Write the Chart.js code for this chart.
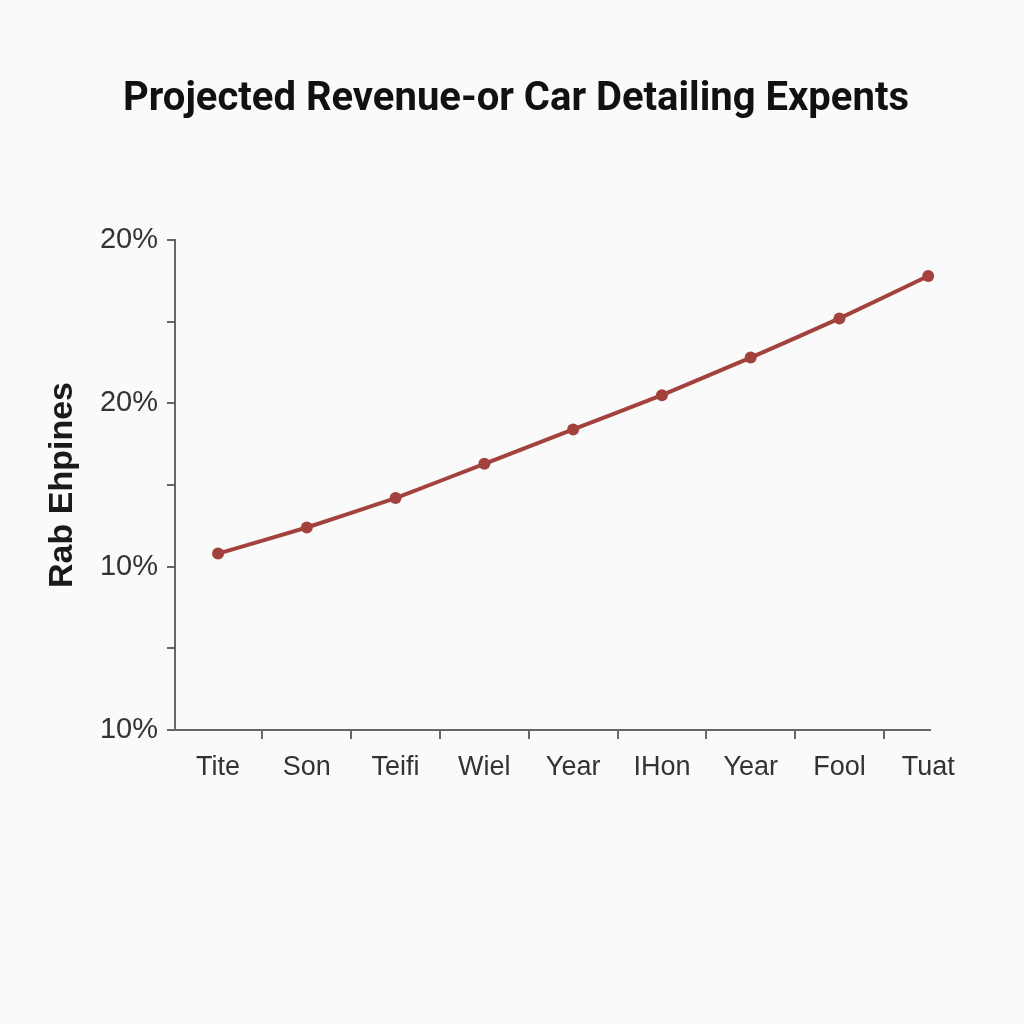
<!DOCTYPE html>
<html>
<head>
<meta charset="utf-8">
<script src="https://cdn.jsdelivr.net/npm/chart.js@4.4.1/dist/chart.umd.min.js"></script>
<style>
  html, body { margin: 0; padding: 0; background: #fafafa; }
  #wrap { width: 1024px; height: 1024px; }
</style>
</head>
<body>
<div id="wrap"><canvas id="c" width="1024" height="1024"></canvas></div>
<script>
const chartTitle = 'Projected Revenue-or Car Detailing Expents';
const yAxisTitle = 'Rab Ehpines';
const categories = ['Tite', 'Son', 'Teifi', 'Wiel', 'Year', 'IHon', 'Year', 'Fool', 'Tuat'];
const seriesValues = [1.08, 1.24, 1.42, 1.63, 1.84, 2.05, 2.28, 2.52, 2.78];
const yTickValues = [0, 1, 2, 3];
const yTickLabels = ['10%', '10%', '20%', '20%'];

const lineColor = '#a3423d';

const points = seriesValues.map((v, i) => ({ x: i, y: v }));

new Chart(document.getElementById('c'), {
  type: 'line',
  data: {
    datasets: [{
      data: points,
      borderColor: lineColor,
      backgroundColor: lineColor,
      borderWidth: 4,
      pointRadius: 6,
      pointBorderWidth: 0,
      pointBackgroundColor: lineColor,
      tension: 0.1,
      fill: false,
      clip: false
    }]
  },
  options: {
    responsive: false,
    animation: false,
    layout: { padding: { left: 10, right: 2, top: 0, bottom: 214 } },
    plugins: {
      legend: { display: false },
      tooltip: { enabled: false },
      title: {
        display: true,
        text: chartTitle,
        color: '#111111',
        font: { family: 'Roboto, "Liberation Sans", Arial, sans-serif', size: 40, weight: 'bold' },
        padding: { top: 76, bottom: 116 }
      }
    },
    scales: {
      x: {
        type: 'linear',
        min: -0.485,
        max: 8.02,
        afterFit: (s) => { s.height = 80; },
        ticks: {
          stepSize: 1,
          includeBounds: false,
          autoSkip: false,
          maxRotation: 0,
          padding: 12,
          color: '#333333',
          font: { family: '"Liberation Sans", Arial, sans-serif', size: 27 },
          callback: (v) => (Number.isInteger(v) && categories[v] !== undefined) ? categories[v] : ''
        },
        grid: {
          offset: true,
          drawOnChartArea: false,
          drawTicks: true,
          tickLength: 9,
          color: '#666666',
          lineWidth: 2
        },
        border: { display: true, color: '#666666', width: 2 }
      },
      y: {
        type: 'linear',
        min: 0,
        max: 3,
        afterFit: (s) => { s.width = 165; },
        ticks: {
          stepSize: 0.5,
          autoSkip: false,
          padding: 9,
          color: '#333333',
          font: { family: '"Liberation Sans", Arial, sans-serif', size: 29 },
          callback: (v) => {
            const idx = yTickValues.indexOf(v);
            return idx >= 0 ? yTickLabels[idx] : '';
          }
        },
        grid: {
          drawOnChartArea: false,
          drawTicks: true,
          tickLength: 8,
          color: '#666666',
          lineWidth: 2
        },
        border: { display: true, color: '#666666', width: 2 },
        title: {
          display: true,
          text: yAxisTitle,
          color: '#1a1a1a',
          font: { family: '"Liberation Sans", Arial, sans-serif', size: 34, weight: 'bold' },
          padding: { top: 32, bottom: 0 }
        }
      },
      yRightSpacer: {
        type: 'linear',
        position: 'right',
        display: true,
        afterFit: (s) => { s.width = 92; },
        ticks: { display: false },
        grid: { display: false, drawTicks: false },
        border: { display: false }
      }
    }
  }
});
</script>
</body>
</html>
